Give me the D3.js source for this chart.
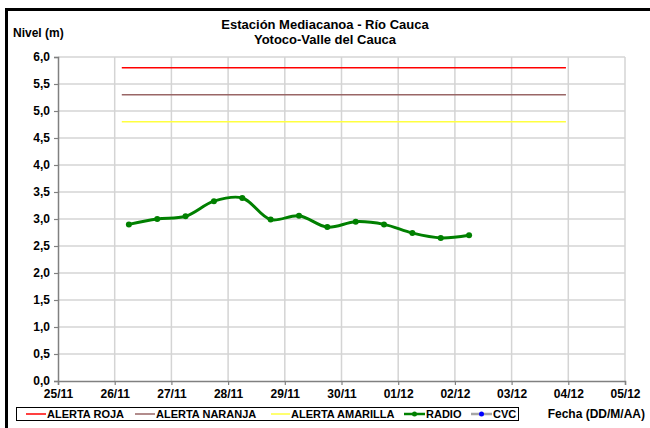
<!DOCTYPE html>
<html>
<head>
<meta charset="utf-8">
<script src="https://cdn.jsdelivr.net/npm/d3@7"></script>
<style>
  body { margin: 0; background: #fff; }
  svg { display: block; font-family: "Liberation Sans", Arial, sans-serif; }
  .tick text { font-weight: bold; fill: #000; }
</style>
</head>
<body>
<div id="chart"></div>
<script>
// Water level data (m), readings twice a day
var radioDates = ["2010-11-26T06:00", "2010-11-26T18:00", "2010-11-27T06:00", "2010-11-27T18:00",
    "2010-11-28T06:00", "2010-11-28T18:00", "2010-11-29T06:00", "2010-11-29T18:00",
    "2010-11-30T06:00", "2010-11-30T18:00", "2010-12-01T06:00", "2010-12-01T18:00",
    "2010-12-02T06:00"];
var radioValues = [2.90, 3.00, 3.05, 3.33, 3.39, 2.99, 3.06, 2.85, 2.95, 2.90, 2.74, 2.65, 2.70];

// Alert thresholds and their time span
var alertNames = ["ALERTA ROJA", "ALERTA NARANJA", "ALERTA AMARILLA"];
var alertLevels = [5.8, 5.3, 4.8];
var alertColors = ["#ff0000", "#996666", "#ffff40"];
var alertSpan = ["2010-11-26T03:00", "2010-12-03T23:00"];

var xDomain = ["2010-11-25T00:00", "2010-12-05T00:00"];
var yTicks = [0, 0.5, 1, 1.5, 2, 2.5, 3, 3.5, 4, 4.5, 5, 5.5, 6];

var parse = d3.timeParse("%Y-%m-%dT%H:%M");

var margin = { top: 57, right: 25, bottom: 47, left: 58 };
var W = 650, H = 428;
var width = W - margin.left - margin.right,
    height = H - margin.top - margin.bottom;

var svg = d3.select("#chart").append("svg")
    .attr("width", W)
    .attr("height", H);

// outer frame (cut off at right and bottom)
svg.append("path")
    .attr("d", "M6.5," + H + "V9.5H" + W)
    .attr("fill", "none")
    .attr("stroke", "#000")
    .attr("stroke-width", 3);

var g = svg.append("g")
    .attr("transform", "translate(" + margin.left + "," + margin.top + ")");

var x = d3.scaleTime()
    .domain(xDomain.map(parse))
    .range([0, width]);

var y = d3.scaleLinear()
    .domain([0, 6])
    .range([height, 0]);

var dayTicks = d3.timeDay.range(parse(xDomain[0]), d3.timeDay.offset(parse(xDomain[1]), 1));

// grid
g.append("g").selectAll("line")
    .data(yTicks.slice(1))
    .join("line")
    .attr("x1", 0).attr("x2", width)
    .attr("y1", function(d) { return y(d); })
    .attr("y2", function(d) { return y(d); })
    .attr("stroke", "#d4d4d4")
    .attr("stroke-width", 1.5);

g.append("g").selectAll("line")
    .data(dayTicks.slice(1))
    .join("line")
    .attr("x1", function(d) { return x(d); })
    .attr("x2", function(d) { return x(d); })
    .attr("y1", 0).attr("y2", height)
    .attr("stroke", "#d4d4d4")
    .attr("stroke-width", 1.5);

// axes
var yAxis = d3.axisLeft(y)
    .tickValues(yTicks)
    .tickSize(4)
    .tickPadding(4)
    .tickFormat(function(d) { return d3.format(".1f")(d).replace(".", ","); });

var xAxis = d3.axisBottom(x)
    .tickValues(dayTicks)
    .tickSize(4)
    .tickPadding(4)
    .tickFormat(d3.timeFormat("%d/%m"));

var yG = g.append("g").call(yAxis);
var xG = g.append("g").attr("transform", "translate(0," + height + ")").call(xAxis);

[yG, xG].forEach(function(a) {
    a.select(".domain").attr("stroke", "#808080").attr("stroke-width", 1.5);
    a.selectAll(".tick line").attr("stroke", "#808080").attr("stroke-width", 1.2);
    a.selectAll(".tick text").attr("font-size", 12);
});

// alert lines
g.append("g").selectAll("line")
    .data(alertLevels)
    .join("line")
    .attr("x1", x(parse(alertSpan[0])))
    .attr("x2", x(parse(alertSpan[1])))
    .attr("y1", function(d) { return y(d); })
    .attr("y2", function(d) { return y(d); })
    .attr("stroke", function(d, i) { return alertColors[i]; })
    .attr("stroke-width", 1.6);

// radio series
var radio = radioDates.map(function(d, i) {
    return { date: parse(d), value: radioValues[i] };
});

var line = d3.line()
    .curve(d3.curveCatmullRom.alpha(0.5))
    .x(function(d) { return x(d.date); })
    .y(function(d) { return y(d.value); });

g.append("path")
    .datum(radio)
    .attr("d", line)
    .attr("fill", "none")
    .attr("stroke", "#008000")
    .attr("stroke-width", 3);

g.append("g").selectAll("circle")
    .data(radio)
    .join("circle")
    .attr("cx", function(d) { return x(d.date); })
    .attr("cy", function(d) { return y(d.value); })
    .attr("r", 3)
    .attr("fill", "#008000");

// titles
svg.append("text")
    .attr("x", 325).attr("y", 29)
    .attr("text-anchor", "middle")
    .attr("font-size", 13).attr("font-weight", "bold")
    .text("Estación Mediacanoa - Río Cauca");
svg.append("text")
    .attr("x", 325).attr("y", 44)
    .attr("text-anchor", "middle")
    .attr("font-size", 13).attr("font-weight", "bold")
    .text("Yotoco-Valle del Cauca");
svg.append("text")
    .attr("x", 13).attr("y", 37)
    .attr("font-size", 12).attr("font-weight", "bold")
    .text("Nivel (m)");
svg.append("text")
    .attr("x", 645).attr("y", 418)
    .attr("text-anchor", "end")
    .attr("font-size", 12).attr("font-weight", "bold")
    .text("Fecha (DD/M/AA)");

// legend
var legendItems = [
    { name: alertNames[0], color: alertColors[0], x: 26, w: 20 },
    { name: alertNames[1], color: alertColors[1], x: 135, w: 20 },
    { name: alertNames[2], color: alertColors[2], x: 271, w: 19 },
    { name: "RADIO", color: "#008000", x: 404, w: 21, marker: "#008000" },
    { name: "CVC", color: "#a6a6a6", x: 471, w: 21, marker: "#0000ff" }
];

var legend = svg.append("g");
legend.append("rect")
    .attr("x", 16.5).attr("y", 407.5)
    .attr("width", 502).attr("height", 13)
    .attr("fill", "#fff")
    .attr("stroke", "#000")
    .attr("stroke-width", 1);

var li = legend.selectAll("g.item")
    .data(legendItems)
    .join("g")
    .attr("class", "item");

li.append("line")
    .attr("x1", function(d) { return d.x; })
    .attr("x2", function(d) { return d.x + d.w; })
    .attr("y1", 414).attr("y2", 414)
    .attr("stroke", function(d) { return d.color; })
    .attr("stroke-width", function(d) { return d.marker ? 2.5 : 1.5; });

li.filter(function(d) { return d.marker; })
    .append("circle")
    .attr("cx", function(d) { return d.x + d.w / 2; })
    .attr("cy", 414)
    .attr("r", 2.5)
    .attr("fill", function(d) { return d.marker; });

li.append("text")
    .attr("x", function(d) { return d.x + d.w + 1; })
    .attr("y", 418)
    .attr("font-size", 11)
    .attr("font-weight", "bold")
    .text(function(d) { return d.name; });
</script>
</body>
</html>
